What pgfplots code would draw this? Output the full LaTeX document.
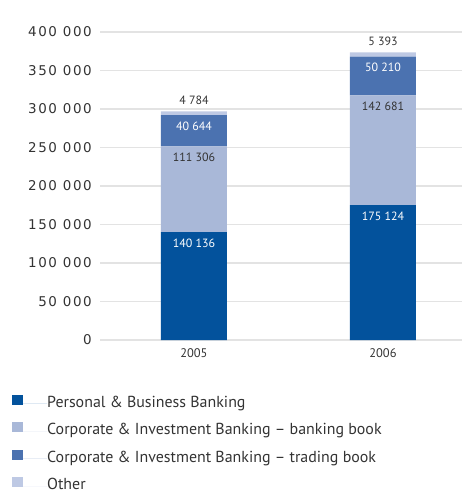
\documentclass[border=0pt]{standalone}
\usepackage{fontspec}
\setmainfont{PT Sans}
\newfontfamily\tickfont[LetterSpace=12]{DejaVu Sans}
\usepackage{pgfplots}
\pgfplotsset{compat=1.18}
\definecolor{cPBB}{HTML}{03529C}
\definecolor{cCBB}{HTML}{A9B8D8}
\definecolor{cCTB}{HTML}{4B72B0}
\definecolor{cOth}{HTML}{BEC9E4}
\definecolor{gridc}{HTML}{E3E3E3}
\definecolor{txt}{HTML}{333333}
\pgfplotsset{
  common/.style={at={(0,0)}, anchor=south west,
    scale only axis, width=362bp, height=308bp,
    xmin=-0.497, xmax=1.418, ymin=0, ymax=400000,
    enlargelimits=false, scaled y ticks=false},
  inlab/.style={draw=none, mark=none, only marks, nodes near coords,
    every node near coord/.append style={anchor=north, inner sep=0pt, yshift=-6.5bp, text=#1, font=\fontsize{12}{12}\selectfont}},
  lim/.style={legend image code/.code={\fill[#1] (0bp,-1bp) rectangle (11bp,9bp); \path (0bp,0bp) -- (35bp,0bp);}},
}
\begin{document}
\begin{tikzpicture}
\useasboundingbox (-100bp,-151bp) rectangle (362bp,340bp);
\begin{axis}[common,
  ybar stacked, bar width=0.349,
  axis line style={draw=none},
  major tick length=0pt,
  ymajorgrids, grid style={gridc, line width=1.2bp},
  xtick={0,1}, xticklabels={2005,2006},
  ytick={0,50000,100000,150000,200000,250000,300000,350000,400000},
  yticklabels={0,50 000,100 000,150 000,200 000,250 000,300 000,350 000,400 000},
  yticklabel style={font=\tickfont\fontsize{13.5}{14}\selectfont, text=txt, anchor=east, inner sep=0pt, xshift=-8bp},
  xticklabel style={font=\fontsize{12.5}{12.5}\selectfont, text=txt, inner sep=0pt, anchor=north, yshift=-8bp},
  legend cell align=left,
  legend style={at={(axis description cs:-0.2514,-0.17)}, anchor=north west, draw=none, fill=none,
    font=\fontsize{16}{16}\selectfont, text=txt, row sep=12bp,
    nodes={inner sep=0pt, text height=10bp, text depth=3bp}},
]
\addplot[fill=cPBB, draw=none, lim=cPBB] coordinates {(0,140136) (1,175124)};
\addlegendentry{Personal \& Business Banking}
\addplot[fill=cCBB, draw=none, lim=cCBB] coordinates {(0,111306) (1,142681)};
\addlegendentry{Corporate \& Investment Banking – banking book}
\addplot[fill=cCTB, draw=none, lim=cCTB] coordinates {(0,40644) (1,50210)};
\addlegendentry{Corporate \& Investment Banking – trading book}
\addplot[fill=cOth, draw=none, lim=cOth] coordinates {(0,4784) (1,5393)};
\addlegendentry{Other}
\end{axis}
% value labels at the top of each segment (cumulative heights)
\begin{axis}[common, hide axis, point meta=explicit symbolic]
\addplot[inlab=white] coordinates {(0,140136) [140 136] (1,175124) [175 124]};
\addplot[inlab=txt] coordinates {(0,251442) [111 306] (1,317805) [142 681]};
\addplot[inlab=white] coordinates {(0,292086) [40 644] (1,368015) [50 210]};
\addplot[draw=none, mark=none, only marks, nodes near coords,
  every node near coord/.append style={anchor=south, inner sep=0pt, yshift=6.5bp, text=txt, font=\fontsize{12}{12}\selectfont}]
  coordinates {(0,296870) [4 784] (1,373408) [5 393]};
\end{axis}
\end{tikzpicture}
\end{document}
